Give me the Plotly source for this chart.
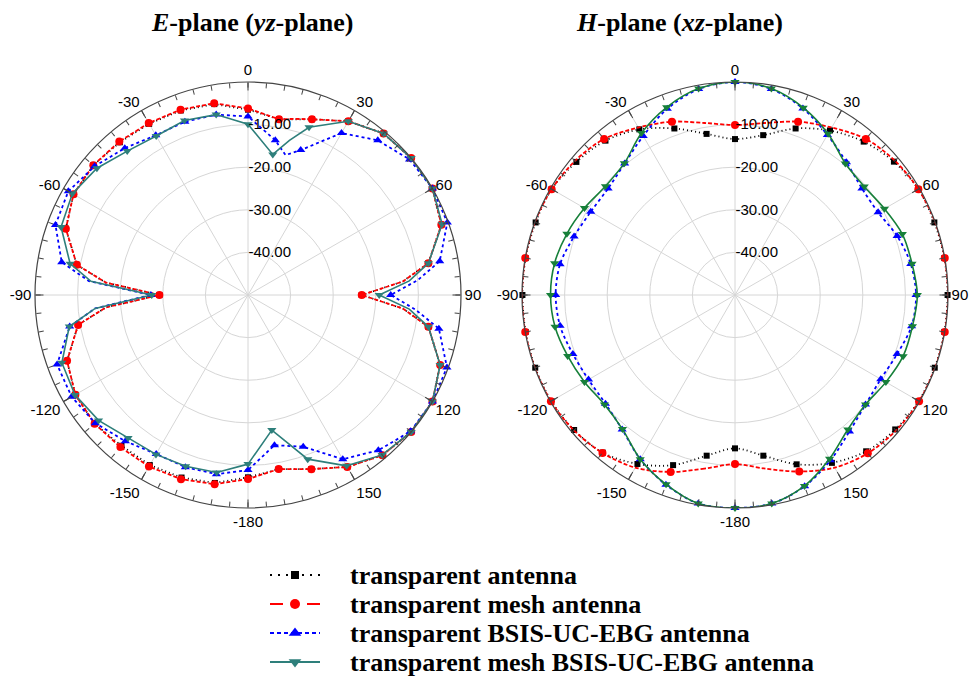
import plotly.graph_objects as go

# ---------------- E-plane (yz-plane) pattern data, dB ----------------
E_THETA = [-180, -170, -160, -150, -140, -130, -120, -110, -100, -95, -90, -85,
           -80, -70, -60, -50, -40, -30, -20, -10, 0, 10, 15, 20, 30, 40, 50,
           60, 70, 80, 85, 90, 95, 100, 110, 120, 130, 140, 150, 160, 170]

E_TRANSPARENT = [-7.2, -5.2, -4.4, -3.9, -3.8, -3.0, -3.2, -4.8, -9.5, -16.5, -29.2, -16.5,
                 -9.2, -4.5, -2.7, -2.6, -3.2, -3.6, -3.9, -4.5, -6.5, -8.1, -7.3, -6.1,
                 -2.9, -0.5, 0.0, 0.0, -1.7, -7.0, -13.5, -23.3, -13.5, -7.0, -2.0, 0.0,
                 0.0, -0.9, -3.4, -6.5, -8.5]

E_MESH = [-6.8, -4.9, -4.0, -3.5, -3.4, -3.0, -3.2, -4.8, -9.5, -16.5, -29.2, -16.5,
          -9.2, -4.5, -2.7, -2.6, -3.0, -3.4, -3.7, -4.3, -6.2, -8.1, -7.2, -6.1,
          -2.9, -0.5, 0.0, 0.0, -1.7, -7.0, -13.5, -23.3, -13.5, -7.0, -2.0, 0.0,
          0.0, -0.9, -3.4, -6.5, -8.5]

E_EBG = [-8.9, -7.3, -7.0, -6.9, -5.2, -3.2, -2.2, -2.3, -7.5, -14.0, -27.2, -12.5,
         -5.6, -1.9, -1.3, -3.0, -5.0, -6.7, -6.7, -7.0, -8.1, -13.1, -16.0, -13.8,
         -6.1, -2.6, -0.5, 0.0, -0.2, -4.3, -10.0, -16.5, -10.5, -4.5, -0.3, 0.0,
         -0.2, -2.4, -5.5, -12.1, -14.2]

E_MESH_EBG = [-10.3, -7.7, -7.2, -6.8, -6.2, -4.2, -3.1, -3.5, -7.4, -14.0, -27.4, -13.0,
              -7.6, -3.3, -2.4, -3.7, -5.9, -6.9, -6.4, -7.0, -9.9, -16.5, -12.4, -8.1,
              -2.9, -0.5, 0.0, 0.0, -1.5, -7.0, -12.0, -19.2, -12.0, -7.0, -2.0, 0.0,
              0.0, -1.0, -3.7, -9.0, -17.8]

# ---------------- H-plane (xz-plane) pattern data, dB ----------------
H_THETA = list(range(-180, 180, 10))

H_TRANSPARENT = [-14.0, -11.7, -7.5, -4.2, -1.7, -0.7, -0.2, -0.1, -0.1, -0.1, -0.1, -0.2,
                 -0.3, -1.4, -2.7, -5.1, -8.4, -11.6, -13.4, -11.9, -8.4, -5.4, -3.0, -1.3,
                 -0.3, -0.2, -0.1, -0.1, -0.1, -0.1, -0.2, -0.9, -2.1, -4.5, -7.7, -11.7]

H_MESH = [-10.3, -8.6, -5.8, -3.2, -1.6, -0.6, -0.1, 0.0, 0.0, 0.0, 0.0, 0.0,
          -0.3, -1.0, -2.2, -4.6, -6.7, -9.0, -10.1, -9.0, -6.7, -4.6, -2.2, -1.0,
          -0.3, 0.0, 0.0, 0.0, 0.0, 0.0, -0.1, -0.6, -1.5, -3.2, -5.9, -8.6]

H_EBG = [0.0, -0.3, -2.6, -5.5, -8.8, -10.3, -10.3, -9.5, -8.3, -7.9, -8.3, -9.8,
         -10.9, -11.1, -9.7, -6.9, -3.5, -0.9, 0.0, -0.9, -3.4, -6.6, -9.3, -11.1,
         -11.2, -9.5, -8.1, -7.5, -7.9, -9.5, -10.5, -10.0, -8.2, -5.2, -2.2, -0.3]

H_MESH_EBG = [0.0, -0.3, -2.7, -5.5, -8.9, -10.0, -9.2, -8.2, -7.1, -6.7, -7.0, -8.0,
              -9.2, -10.3, -9.6, -6.1, -3.1, -0.8, 0.0, -0.8, -3.2, -6.3, -9.7, -10.4,
              -9.5, -8.2, -7.8, -7.2, -7.7, -8.0, -9.1, -10.0, -8.8, -5.6, -2.3, -0.3]

SERIES_NAMES = ["transparent antenna",
                "transparent mesh antenna",
                "transparent BSIS-UC-EBG antenna",
                "transparent mesh BSIS-UC-EBG antenna"]

MINOR_TICKS = list(range(0, 360, 5))
MAJOR_TICKS = list(range(0, 360, 30))
ANGLE_LABELS = {0: "0", 30: "30", 60: "60", 90: "90", 120: "120", 150: "150",
                180: "-180", 210: "-150", 240: "-120", 270: "-90", 300: "-60", 330: "-30"}
RADIAL_TICKS = [-40, -30, -20, -10]
RADIAL_LABELS = ["-40.00", "-30.00", "-20.00", "-10.00"]

# line / marker styles per series (black, red, blue, green)
STYLES = [
    dict(color="#000000", dash="1px,3px", width=1.8, symbol="square", size=6,
         key_dash="2px,6px", key_size=8),
    dict(color="#ff0000", dash="4px,2px", width=1.8, symbol="circle", size=8,
         key_dash="13px,24px", key_size=10),
    dict(color="#0000ff", dash="3px,3px", width=1.8, symbol="triangle-up", size=8,
         key_dash="4px,3px", key_size=11),
    dict(color="#2e7f7b", dash="solid", width=1.6, symbol="triangle-down", size=8,
         key_dash="solid", key_size=11),
]
GREEN_H = "#17803a"

W, H = 971, 684
fig = go.Figure()


def add_grid(subplot):
    # radial spokes every 30 degrees
    for a in MAJOR_TICKS:
        fig.add_trace(go.Scatterpolar(
            r=[-50, 0], theta=[a, a], mode="lines", subplot=subplot,
            line=dict(color="#d6d6d6", width=1), hoverinfo="skip", showlegend=False))


def add_series(subplot, theta, r, style, color, shape, mark_step):
    th = theta + [theta[0]]
    rr = r + [r[0]]
    line = dict(color=color, dash=style["dash"], width=style["width"], shape=shape)
    if shape == "spline":
        line["smoothing"] = 0.9
    fig.add_trace(go.Scatterpolar(
        r=rr, theta=th, mode="lines", subplot=subplot, line=line,
        hoverinfo="skip", showlegend=False))
    mt = [t for t in theta if t % mark_step == 0]
    mr = [v for t, v in zip(theta, r) if t % mark_step == 0]
    fig.add_trace(go.Scatterpolar(
        r=mr, theta=mt, mode="markers", subplot=subplot,
        marker=dict(symbol=style["symbol"], size=style["size"], color=color,
                    line=dict(width=0)),
        showlegend=False))


add_grid("polar")
add_grid("polar2")

E_DATA = [E_TRANSPARENT, E_MESH, E_EBG, E_MESH_EBG]
H_DATA = [H_TRANSPARENT, H_MESH, H_EBG, H_MESH_EBG]
H_MARK_STEP = [10, 20, 10, 10]

for vals, st in zip(E_DATA, STYLES):
    add_series("polar", E_THETA, vals, st, st["color"], "linear", 10)

for i, (vals, st) in enumerate(zip(H_DATA, STYLES)):
    col = GREEN_H if i == 3 else st["color"]
    add_series("polar2", H_THETA, vals, st, col, "spline", H_MARK_STEP[i])

# overlay subplots carrying only the longer 30-degree ticks
for sp in ("polar3", "polar4"):
    fig.add_trace(go.Scatterpolar(r=[None], theta=[None], subplot=sp,
                                  hoverinfo="skip", showlegend=False))

# legend block under the two plots: key glyphs on a hidden pixel-scaled axis
LEGEND_ROWS = [575, 604, 633, 662]
KEY_X0, KEY_X1, TEXT_X = 270, 320, 348
legend_font = dict(family="Liberation Serif, Times New Roman, serif", size=26,
                   color="#000000", weight="bold")
annotations = []
for row_y, name, st in zip(LEGEND_ROWS, SERIES_NAMES, STYLES):
    fig.add_trace(go.Scatter(
        x=[KEY_X0, KEY_X1], y=[row_y, row_y], mode="lines", xaxis="x", yaxis="y",
        line=dict(color=st["color"], dash=st["key_dash"], width=2),
        hoverinfo="skip", showlegend=False))
    fig.add_trace(go.Scatter(
        x=[(KEY_X0 + KEY_X1) / 2], y=[row_y], mode="markers", xaxis="x", yaxis="y",
        marker=dict(symbol=st["symbol"], size=st["key_size"], color=st["color"],
                    line=dict(width=0)),
        hoverinfo="skip", showlegend=False))
    annotations.append(dict(
        text=name, x=TEXT_X, y=row_y, xref="x", yref="y", showarrow=False,
        xanchor="left", yanchor="middle", font=legend_font))

tick_font = dict(family="Liberation Sans, Arial, sans-serif", size=15, color="#000000")


def polar_layout(x0, x1):
    return dict(
        domain=dict(x=[x0 / W, x1 / W], y=[1 - 508 / H, 1 - 82 / H]),
        bgcolor="white",
        angularaxis=dict(
            rotation=90, direction="clockwise", tickmode="array",
            tickvals=MINOR_TICKS,
            ticktext=[ANGLE_LABELS.get(a, "") for a in MINOR_TICKS],
            ticks="inside", ticklen=5, tickwidth=1, tickcolor="#444444",
            showline=True, linecolor="#444444", linewidth=1.2,
            showgrid=False, tickfont=tick_font),
        radialaxis=dict(
            range=[-50, 0], tickmode="array", tickvals=RADIAL_TICKS,
            ticktext=RADIAL_LABELS, angle=90, side="clockwise", tickangle=90,
            showline=False, ticks="", gridcolor="#d6d6d6", gridwidth=1,
            tickfont=tick_font),
    )


def major_tick_layout(x0, x1):
    return dict(
        domain=dict(x=[x0 / W, x1 / W], y=[1 - 508 / H, 1 - 82 / H]),
        bgcolor="rgba(0,0,0,0)",
        angularaxis=dict(
            rotation=90, direction="clockwise", tickmode="array",
            tickvals=MAJOR_TICKS, showticklabels=False,
            ticks="inside", ticklen=8, tickwidth=1.2, tickcolor="#444444",
            showline=False, showgrid=False),
        radialaxis=dict(range=[-50, 0], visible=False),
    )


title_font = dict(family="Liberation Serif, Times New Roman, serif", size=26,
                  color="#000000", weight="bold")
annotations += [
    dict(text="<i>E</i>-plane (<i>yz</i>-plane)", x=252 / W, y=1 - 23 / H,
         xref="paper", yref="paper", showarrow=False, font=title_font,
         xanchor="center", yanchor="middle"),
    dict(text="<i>H</i>-plane (<i>xz</i>-plane)", x=679 / W, y=1 - 23 / H,
         xref="paper", yref="paper", showarrow=False, font=title_font,
         xanchor="center", yanchor="middle"),
]

fig.update_layout(
    width=W, height=H,
    margin=dict(l=0, r=0, t=0, b=0),
    paper_bgcolor="white",
    plot_bgcolor="rgba(0,0,0,0)",
    polar=polar_layout(35, 461),
    polar2=polar_layout(522, 948),
    polar3=major_tick_layout(35, 461),
    polar4=major_tick_layout(522, 948),
    xaxis=dict(domain=[0, 1], range=[0, W], visible=False, fixedrange=True),
    yaxis=dict(domain=[0, 0.2], range=[H, H * 0.8], visible=False, fixedrange=True),
    showlegend=False,
    annotations=annotations,
)

fig.write_html("out.html")
